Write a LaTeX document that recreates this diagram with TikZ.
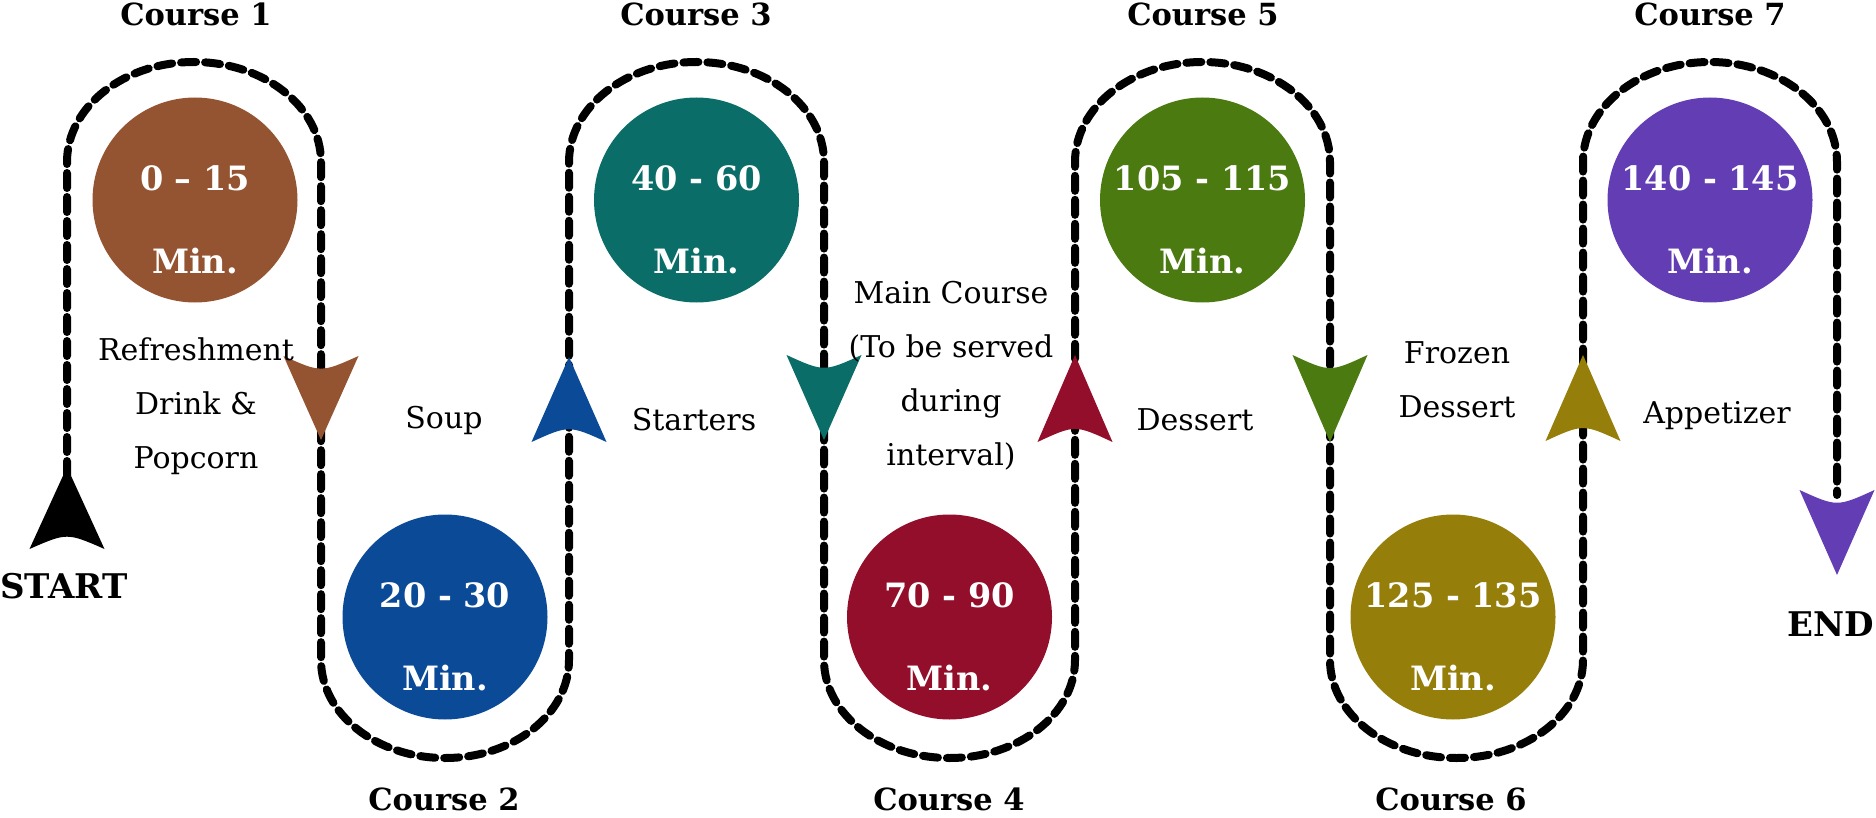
\documentclass[tikz,border=0pt]{standalone}
\usepackage{fontspec}
\setmainfont{DejaVu Serif}
\definecolor{cBrown}{HTML}{955431}
\definecolor{cBlue}{HTML}{0B4A96}
\definecolor{cTeal}{HTML}{0A6D67}
\definecolor{cCrimson}{HTML}{930E2A}
\definecolor{cGreen}{HTML}{4A7A10}
\definecolor{cOlive}{HTML}{957E0A}
\definecolor{cPurple}{HTML}{623DB3}
\newcommand{\flowarrow}[4]{%
  \fill[#4] (#1,#2) -- ({#1+37.5},#3) .. controls (#1,{#3+(#2-#3)*0.2}) .. ({#1-37.5},#3) -- cycle;}
\begin{document}
\begin{tikzpicture}[x=1pt,y=-1pt,
  track/.style={line width=8pt, dash pattern=on 15pt off 9pt, line cap=round},
  disc/.style={circle, minimum size=205pt, inner sep=0pt},
  disctext/.style={text=white, font=\bfseries\fontsize{33.5}{83}\selectfont, align=center},
  course/.style={font=\bfseries\fontsize{30.5}{36}\selectfont, anchor=base},
  endlbl/.style={font=\bfseries\fontsize{34}{40}\selectfont, anchor=base},
  lbl/.style={font=\fontsize{30}{54}\selectfont, align=center}]
\useasboundingbox (0,0) rectangle (1876,818);
\coordinate (s) at (67,500);
\coordinate (e) at (1837,495);
\draw[track] (s) -- (67,162)
 .. controls (67,106.8) and (123.9,62) .. (194,62)
 .. controls (264.1,62) and (321,106.8) .. (321,162)
 -- (321,660)
 .. controls (321,714.1) and (376.5,758) .. (445,758)
 .. controls (513.5,758) and (569,714.1) .. (569,660)
 -- (569,162)
 .. controls (569,106.8) and (626.1,62) .. (696.5,62)
 .. controls (766.9,62) and (824,106.8) .. (824,162)
 -- (824,660)
 .. controls (824,714.1) and (880.2,758) .. (949.5,758)
 .. controls (1018.8,758) and (1075,714.1) .. (1075,660)
 -- (1075,162)
 .. controls (1075,106.8) and (1132.1,62) .. (1202.5,62)
 .. controls (1272.9,62) and (1330,106.8) .. (1330,162)
 -- (1330,660)
 .. controls (1330,714.1) and (1386.6,758) .. (1456.5,758)
 .. controls (1526.4,758) and (1583,714.1) .. (1583,660)
 -- (1583,162)
 .. controls (1583,106.8) and (1639.9,62) .. (1710,62)
 .. controls (1780.1,62) and (1837,106.8) .. (1837,162)
 -- (e);
% discs
\node[disc, fill=cBrown]   (c1) at (195,200) {};
\node[disc, fill=cBlue]    (c2) at (445,617) {};
\node[disc, fill=cTeal]    (c3) at (696.5,200) {};
\node[disc, fill=cCrimson] (c4) at (949.5,617) {};
\node[disc, fill=cGreen]   (c5) at (1202.5,200) {};
\node[disc, fill=cOlive]   (c6) at (1453,617) {};
\node[disc, fill=cPurple]  (c7) at (1710,200) {};
\node[disctext] (t1) at ([yshift=-20pt]c1.center) {0 -- 15\\Min.};
\node[disctext] (t2) at ([yshift=-20pt]c2.center) {20 - 30\\Min.};
\node[disctext] (t3) at ([yshift=-20pt]c3.center) {40 - 60\\Min.};
\node[disctext] (t4) at ([yshift=-20pt]c4.center) {70 - 90\\Min.};
\node[disctext] (t5) at ([yshift=-20pt]c5.center) {105 - 115\\Min.};
\node[disctext] (t6) at ([yshift=-20pt]c6.center) {125 - 135\\Min.};
\node[disctext] (t7) at ([yshift=-20pt]c7.center) {140 - 145\\Min.};
% arrows
\flowarrow{67}{467}{549}{black}
\flowarrow{321}{440}{356}{cBrown}
\flowarrow{569}{357}{442}{cBlue}
\flowarrow{824}{440}{355}{cTeal}
\flowarrow{1075}{355}{442}{cCrimson}
\flowarrow{1330}{442}{355}{cGreen}
\flowarrow{1583}{355}{441}{cOlive}
\flowarrow{1837}{575}{490}{cPurple}
% course titles
\node[course] (k1) at (196,26) {Course 1};
\node[course] (k3) at (696,26) {Course 3};
\node[course] (k5) at (1203,26) {Course 5};
\node[course] (k7) at (1710,26) {Course 7};
\node[course] (k2) at (444,810) {Course 2};
\node[course] (k4) at (949,810) {Course 4};
\node[course] (k6) at (1451,810) {Course 6};
\node[endlbl] (st) at (64,598) {START};
\node[endlbl] (en) at (1831,636) {END};
% labels
\node[lbl] (l1) at (196,406) {Refreshment\\Drink \&\\Popcorn};
\node[lbl] (l2) at (444,420) {Soup};
\node[lbl] (l3) at (694,420) {Starters};
\node[lbl] (l4) at (951,376) {Main Course\\(To be served\\during\\interval)};
\node[lbl] (l5) at (1195,420) {Dessert};
\node[lbl] (l6) at (1457,380) {Frozen\\Dessert};
\node[lbl] (l7) at (1717,416) {Appetizer};
\end{tikzpicture}
\end{document}
